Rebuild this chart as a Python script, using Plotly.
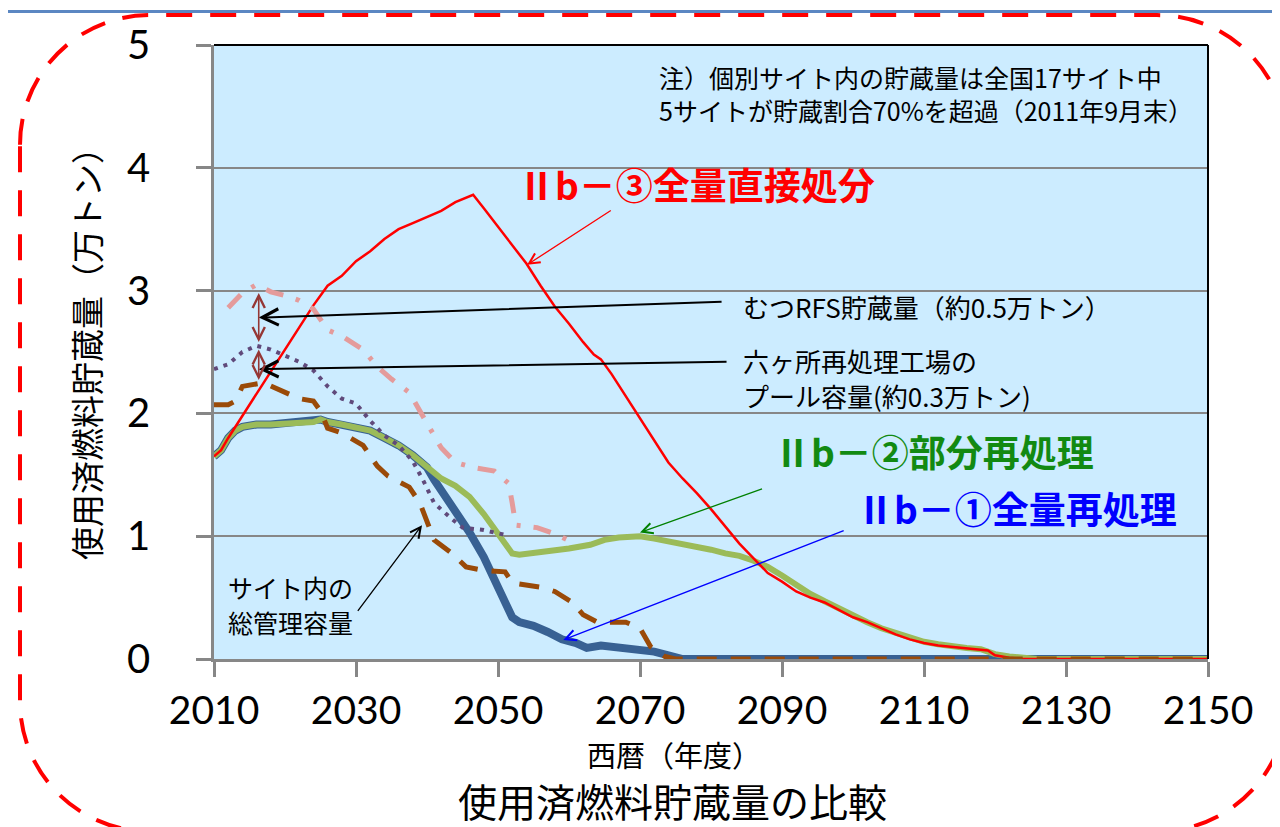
import plotly.graph_objects as go

# --- data (万トン) ---
direct_years = [2010, 2011, 2012, 2014, 2016, 2018, 2020, 2022, 2024, 2026, 2028, 2030, 2032, 2034,
                2036, 2038, 2040, 2042, 2044, 2046.5, 2048, 2050, 2052, 2054, 2056, 2058, 2060, 2062,
                2063.5, 2064.5, 2066, 2068, 2070, 2072, 2074, 2076, 2078, 2080, 2082, 2084, 2086, 2088,
                2090, 2092, 2094, 2096, 2098, 2100, 2102, 2104, 2106, 2108, 2110, 2112, 2114, 2116,
                2118, 2119, 2120, 2122, 2124, 2150]
direct_vals = [1.65, 1.70, 1.80, 1.98, 2.16, 2.34, 2.52, 2.70, 2.88, 3.04, 3.12, 3.24, 3.32, 3.42,
               3.50, 3.55, 3.60, 3.65, 3.72, 3.78, 3.67, 3.52, 3.37, 3.22, 3.04, 2.87, 2.73, 2.58,
               2.48, 2.44, 2.32, 2.14, 1.97, 1.78, 1.60, 1.47, 1.35, 1.22, 1.08, 0.94, 0.82, 0.70,
               0.63, 0.55, 0.50, 0.46, 0.40, 0.34, 0.30, 0.25, 0.20, 0.16, 0.13, 0.11, 0.10, 0.09,
               0.08, 0.07, 0.03, 0.01, 0.0, 0.0]

common_years = [2010, 2011, 2012, 2013, 2014, 2016, 2018, 2020, 2022, 2024, 2025, 2026, 2028, 2030,
                2032, 2034, 2036, 2038, 2040]
common_vals = [1.65, 1.70, 1.80, 1.86, 1.89, 1.91, 1.91, 1.92, 1.92, 1.93, 1.95, 1.93, 1.91, 1.88,
               1.86, 1.80, 1.74, 1.66, 1.56]

partial_years = common_years + [2042, 2044, 2046, 2048, 2050, 2052, 2053, 2056, 2060, 2063, 2065, 2067,
                                2069, 2070, 2072, 2075, 2078, 2080, 2082, 2084, 2086, 2088, 2090, 2092,
                                2094, 2096, 2098, 2100, 2102, 2104, 2106, 2108, 2110, 2112, 2114, 2116,
                                2118, 2120, 2122, 2124, 2126, 2150]
partial_vals = common_vals + [1.47, 1.41, 1.32, 1.18, 1.03, 0.86, 0.85, 0.87, 0.90, 0.93, 0.97, 0.99,
                              1.00, 1.00, 0.98, 0.95, 0.92, 0.89, 0.86, 0.84, 0.80, 0.75, 0.68, 0.60,
                              0.53, 0.47, 0.41, 0.35, 0.30, 0.25, 0.21, 0.17, 0.14, 0.12, 0.10, 0.09,
                              0.08, 0.04, 0.02, 0.01, 0.0, 0.0]

full_years = common_years + [2041, 2042, 2044, 2046, 2048, 2050, 2052, 2053, 2055, 2057, 2059, 2061,
                             2062.5, 2064.5, 2066, 2068, 2070, 2072, 2074, 2076, 2150]
full_vals = common_vals + [1.46, 1.37, 1.22, 1.03, 0.83, 0.60, 0.34, 0.30, 0.27, 0.22, 0.16, 0.13,
                           0.09, 0.11, 0.10, 0.09, 0.08, 0.06, 0.03, 0.0, 0.0]

site_years = [2010, 2012, 2013, 2014, 2017, 2019, 2022, 2024, 2025, 2026, 2028, 2031, 2033, 2034.5,
              2036, 2037.5, 2039, 2041, 2043.5, 2045.5, 2048, 2051, 2052, 2056, 2058, 2060.5, 2062,
              2064, 2068, 2070, 2071.5, 2073.5, 2075, 2150]
site_vals = [2.07, 2.07, 2.10, 2.22, 2.25, 2.20, 2.12, 2.10, 2.02, 1.88, 1.84, 1.74, 1.57, 1.49,
             1.45, 1.40, 1.27, 0.97, 0.86, 0.75, 0.72, 0.71, 0.62, 0.585, 0.55, 0.46, 0.36,
             0.30, 0.30, 0.25, 0.10, 0.02, 0.0, 0.0]

rokkasho_years = [2010, 2012, 2014, 2016, 2018, 2020, 2022, 2024, 2026, 2028, 2030, 2032, 2034, 2036,
                  2038, 2039.5, 2041, 2043.5, 2045, 2048, 2051]
rokkasho_vals = [2.36, 2.40, 2.50, 2.55, 2.52, 2.47, 2.42, 2.35, 2.22, 2.12, 2.08, 1.94, 1.82, 1.74,
                 1.61, 1.45, 1.27, 1.14, 1.07, 1.05, 1.01]

mutsu_years = [2012, 2014, 2016, 2018, 2020, 2022, 2024, 2026, 2028, 2031, 2033, 2035, 2037.5,
               2039, 2040.5, 2042, 2044, 2046.5, 2049.5, 2051.5, 2052, 2052.5, 2055.5, 2058, 2060.5]
mutsu_vals = [2.86, 2.98, 3.05, 2.99, 2.96, 2.92, 2.85, 2.68, 2.63, 2.52, 2.38, 2.28, 2.17,
              2.02, 1.87, 1.72, 1.60, 1.56, 1.53, 1.43, 1.27, 1.09, 1.07, 1.02, 0.95]

x_ticks = [2010, 2030, 2050, 2070, 2090, 2110, 2130, 2150]
y_ticks = [0, 1, 2, 3, 4, 5]

JP = "Noto Sans CJK JP"
NUM = "Lato"

# plot area as seen on screen: x 214..1208, y 43..659; the page body adds an 8px offset
L, R, T, B = 214, 1208, 43, 659
OFF = 8


def px(x):
    return (x - L) / (R - L)


def py(y):
    return (B - y) / (B - T)


fig = go.Figure()

fig.add_trace(go.Scatter(x=full_years, y=full_vals, mode='lines',
                         line=dict(color='#386193', width=8), name='全量再処理'))
fig.add_trace(go.Scatter(x=partial_years, y=partial_vals, mode='lines',
                         line=dict(color='#9BBB59', width=6), name='部分再処理'))
fig.add_trace(go.Scatter(x=direct_years, y=direct_vals, mode='lines',
                         line=dict(color='#FF0000', width=2.5), name='全量直接処分'))
fig.add_trace(go.Scatter(x=site_years, y=site_vals, mode='lines',
                         line=dict(color='#9A4A08', width=5, dash='20px,14px'), name='サイト内の総管理容量'))
fig.add_trace(go.Scatter(x=rokkasho_years, y=rokkasho_vals, mode='lines',
                         line=dict(color='#604A7B', width=4, dash='4px,6px'), name='六ヶ所'))
fig.add_trace(go.Scatter(x=mutsu_years, y=mutsu_vals, mode='lines',
                         line=dict(color='#E49B9B', width=5, dash='18px,13px,4px,13px'), name='むつ'))

annotations = []


def arrow(x, y, ax, ay, color, width=1.3, size=1.6, both=False):
    a = dict(x=x, y=y, ax=ax, ay=ay, xref='x', yref='y', axref='x', ayref='y', text='',
             showarrow=True, arrowhead=5, arrowsize=size, arrowwidth=width, arrowcolor=color)
    if both:
        a.update(arrowside='end+start', startarrowhead=5, startarrowsize=size)
    annotations.append(a)


# label arrows
arrow(2054.1, 3.21, 2066.1, 3.66, '#FF0000')
arrow(2070.0, 1.03, 2087.4, 1.39, '#008000')
arrow(2059.2, 0.155, 2098.9, 1.05, '#0000FF')
arrow(2039.3, 1.09, 2030.1, 0.38, '#000000')
arrow(2016.3, 2.78, 2081.7, 2.91, '#000000', width=2)
arrow(2016.3, 2.36, 2082.4, 2.42, '#000000', width=2)
# capacity gaps
arrow(2016.3, 2.98, 2016.3, 2.57, '#953735', width=1.6, size=1.5, both=True)
arrow(2016.3, 2.52, 2016.3, 2.26, '#953735', width=1.6, size=1.5, both=True)


def label(x, y, text, size, color='#000000', bold=False, anchor='left'):
    if bold:
        text = '<b>' + text + '</b>'
    annotations.append(dict(x=px(x), y=py(y), xref='paper', yref='paper', text=text,
                            showarrow=False, xanchor=anchor, yanchor='middle',
                            font=dict(family=JP, size=size, color=color)))


label(516, 182, 'Ⅱb－③全量直接処分', 37, '#FF0000', bold=True)
label(772, 450, 'Ⅱb－②部分再処理', 37, '#128A12', bold=True)
label(855, 508, 'Ⅱb－①全量再処理', 37, '#0000FF', bold=True)
label(657, 75, '注）個別サイト内の貯蔵量は全国17サイト中', 25)
label(657, 108, '5サイトが貯蔵割合70%を超過（2011年9月末）', 25)
label(741, 305, 'むつRFS貯蔵量（約0.5万トン）', 26)
label(741, 360, '六ヶ所再処理工場の', 26)
label(741, 395, 'プール容量(約0.3万トン)', 26)
label(226, 587, 'サイト内の', 25)
label(226, 622, '総管理容量', 25)
label(674, 754, '西暦（年度）', 29, anchor='center')
label(672, 800, '使用済燃料貯蔵量の比較', 39, anchor='center')
annotations.append(dict(x=px(86), y=py(345), xref='paper', yref='paper', text='使用済燃料貯蔵量（万トン）',
                        textangle=-90, showarrow=False, xanchor='center', yanchor='middle',
                        font=dict(family=JP, size=33, color='#000000')))

# dashed rounded frame (screen-pixel geometry converted to paper)
x0, y0, x1, y1, r = 20, 13, 1287, 832, 130
k = 0.5523 * r


def p(x, y):
    return f'{px(x):.5f},{py(y):.5f}'


frame = (f'M{p(x0, y0 + r)} C{p(x0, y0 + r - k)} {p(x0 + r - k, y0)} {p(x0 + r, y0)} '
         f'L{p(x1 - r, y0)} C{p(x1 - r + k, y0)} {p(x1, y0 + r - k)} {p(x1, y0 + r)} '
         f'L{p(x1, y1 - r)} C{p(x1, y1 - r + k)} {p(x1 - r + k, y1)} {p(x1 - r, y1)} '
         f'L{p(x0 + r, y1)} C{p(x0 + r - k, y1)} {p(x0, y1 - r + k)} {p(x0, y1 - r)} Z')

shapes = [
    dict(type='path', path=frame, xref='paper', yref='paper',
         line=dict(color='#FF0000', width=4, dash='26px,18px')),
    dict(type='line', xref='paper', yref='paper', x0=px(0), x1=px(1290), y0=py(9.5), y1=py(9.5),
         line=dict(color='#5B87C2', width=3)),
    dict(type='line', xref='paper', yref='paper', x0=0, x1=1, y0=1, y1=1,
         line=dict(color='#000000', width=2)),
    dict(type='line', xref='paper', yref='paper', x0=1, x1=1, y0=0, y1=1,
         line=dict(color='#000000', width=2)),
]

fig.update_layout(
    width=1280, height=827,
    margin=dict(l=L - OFF, r=1280 - (R - OFF), t=T - OFF, b=827 - (B - OFF)),
    paper_bgcolor='white', plot_bgcolor='#CCECFF',
    showlegend=False,
    annotations=annotations, shapes=shapes,
    xaxis=dict(range=[2010, 2150], tickvals=x_ticks, showgrid=False, zeroline=False,
               showline=True, linecolor='#878787', linewidth=2.5,
               ticks='outside', ticklen=15, tickwidth=2.5, tickcolor='#878787',
               tickfont=dict(family=NUM, size=39, color='#000000'), ticklabelstandoff=0),
    yaxis=dict(range=[0, 5], tickvals=y_ticks, showgrid=True, gridcolor='#878787', gridwidth=2,
               zeroline=False, showline=True, linecolor='#878787', linewidth=2.5,
               ticks='outside', ticklen=15, tickwidth=2.5, tickcolor='#878787',
               tickfont=dict(family=NUM, size=40, color='#000000'), ticklabelstandoff=38),
)

fig.write_html("out.html")
